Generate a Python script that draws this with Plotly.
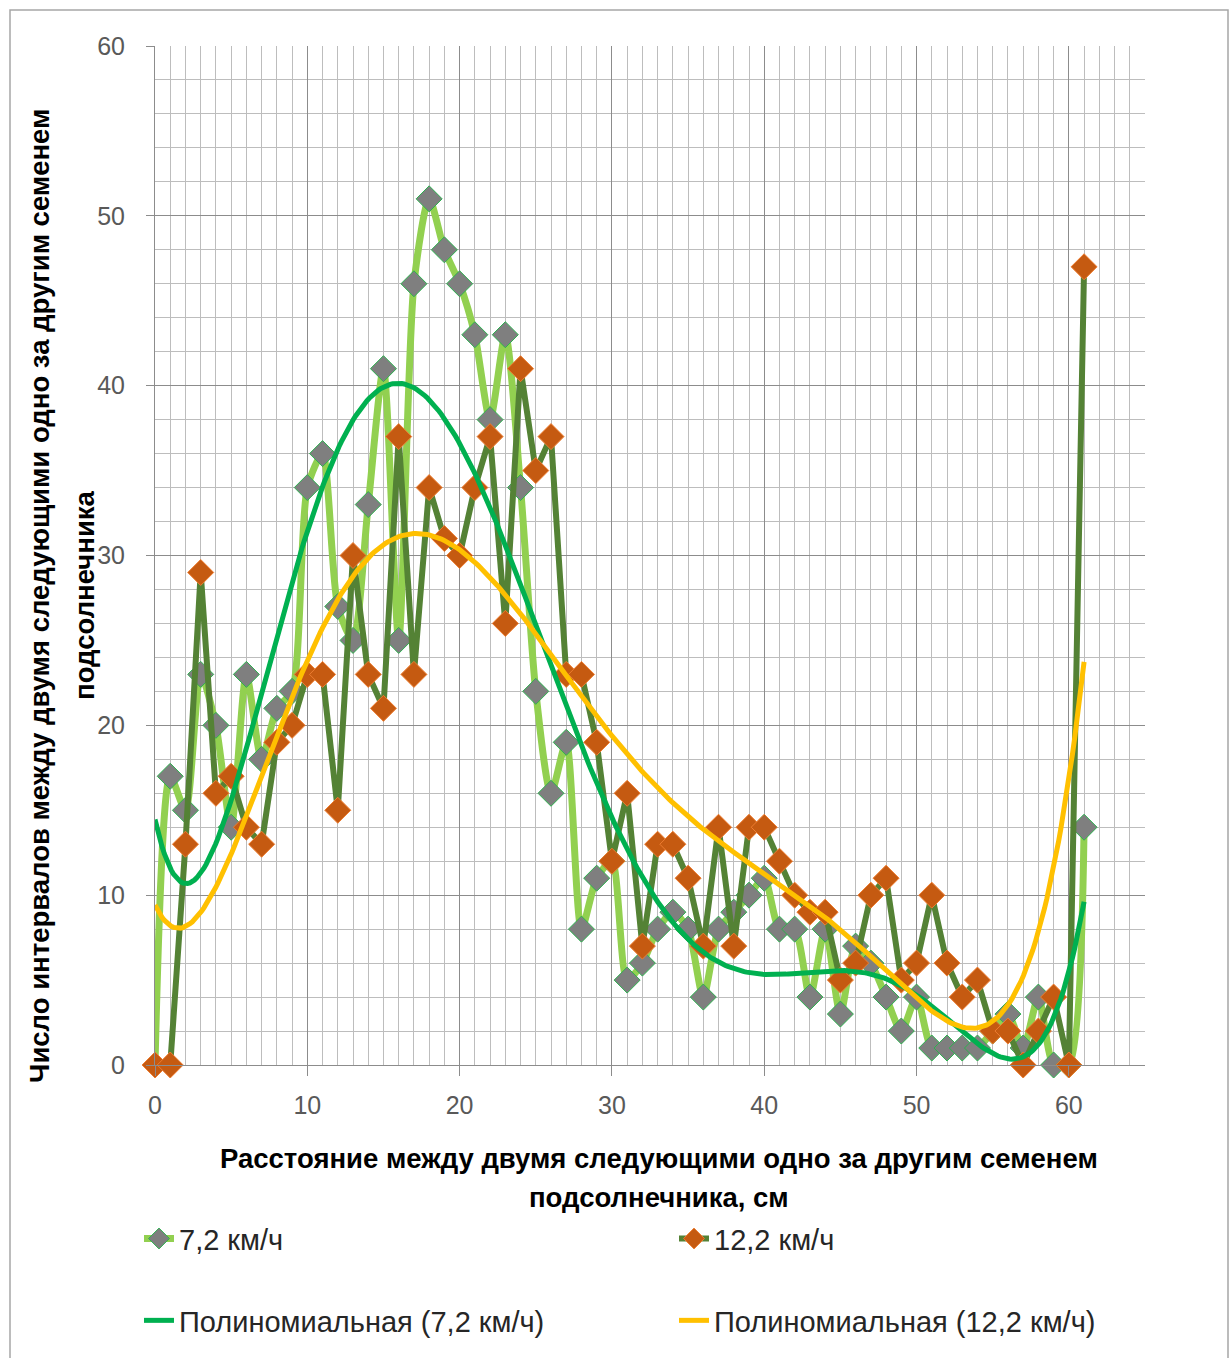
import numpy as np
import plotly.graph_objects as go

# ---- data ----
x_cm = list(range(0, 62))
v_72 = [0, 17, 15, 23, 20, 14, 23, 18, 21, 22,
        34, 36, 27, 25, 33, 41, 25, 46, 51, 48,
        46, 43, 38, 43, 34, 22, 16, 19, 8, 11,
        12, 5, 6, 8, 9, 8, 4, 8, 9, 10,
        11, 8, 8, 4, 8, 3, 7, 6, 4, 2,
        4, 1, 1, 1, 1, 2, 3, 1, 4, 0,
        0, 14]
v_122 = [0, 0, 13, 29, 16, 17, 14, 13, 19, 20,
         23, 23, 15, 30, 23, 21, 37, 23, 34, 31,
         30, 34, 37, 26, 41, 35, 37, 23, 23, 19,
         12, 16, 7, 13, 13, 11, 7, 14, 7, 14,
         14, 12, 10, 9, 9, 5, 6, 10, 11, 5,
         6, 10, 6, 4, 5, 2, 2, 0, 2, 4,
         0, 47]
name_72 = "7,2 км/ч"
name_122 = "12,2 км/ч"
name_p72 = "Полиномиальная (7,2 км/ч)"
name_p122 = "Полиномиальная (12,2 км/ч)"
x_title = ["Расстояние между двумя следующими одно за другим семенем", "подсолнечника, см"]
y_title = ["Число интервалов между двумя следующими одно за другим семенем", "подсолнечника"]
poly_order = 6

# ---- polynomial trend lines (least squares, like Excel) ----
xa = np.array(x_cm, dtype=float)
xf = np.linspace(xa.min(), xa.max(), 400)
p72 = np.polyval(np.polyfit(xa, np.array(v_72, float), poly_order), xf)
p122 = np.polyval(np.polyfit(xa, np.array(v_122, float), poly_order), xf)

fig = go.Figure()
fig.add_trace(go.Scatter(
    x=x_cm, y=v_72, name=name_72, mode="lines+markers",
    line=dict(color="#92D050", width=7, shape="spline", smoothing=0.7),
    marker=dict(symbol="diamond", size=20, color="#7F7F7F",
                line=dict(color="#2DB24F", width=1)),
    cliponaxis=False, legend="legend"))
fig.add_trace(go.Scatter(
    x=x_cm, y=v_122, name=name_122, mode="lines+markers",
    line=dict(color="#548235", width=6),
    marker=dict(symbol="diamond", size=20, color="#C55A11",
                line=dict(color="#ED7D31", width=1)),
    cliponaxis=False, legend="legend"))
fig.add_trace(go.Scatter(
    x=xf, y=p72, name=name_p72, mode="lines",
    line=dict(color="#00B050", width=5), cliponaxis=False, legend="legend2"))
fig.add_trace(go.Scatter(
    x=xf, y=p122, name=name_p122, mode="lines",
    line=dict(color="#FFC000", width=5), cliponaxis=False, legend="legend2"))

L, R, T, B = 155, 87, 46, 291
W, H = 1232, 1358
pw, ph = W - L - R, H - T - B


def px(xp):
    return (xp - L) / pw


def py(yp):
    return (H - B - yp) / ph


tick_font = dict(family="Liberation Sans, Arial, sans-serif", size=25, color="#595959")
title_font = dict(family="Liberation Sans, Arial, sans-serif", size=27.5, color="#000000")
legend_font = dict(family="Liberation Sans, Arial, sans-serif", size=29, color="#262626")

fig.update_layout(
    width=W, height=H,
    margin=dict(l=L, r=R, t=T, b=B),
    paper_bgcolor="white", plot_bgcolor="white",
    xaxis=dict(range=[0, 65], tick0=0, dtick=10, showgrid=True, gridcolor="#8C8C8C", gridwidth=1,
               minor=dict(dtick=1, showgrid=True, gridcolor="#BDBDBD", gridwidth=1),
               ticks="outside", ticklen=10, tickcolor="#8C8C8C",
               showline=True, linecolor="#8C8C8C", zeroline=False,
               tickfont=tick_font, ticklabelstandoff=8),
    yaxis=dict(range=[0, 60], tick0=0, dtick=10, showgrid=True, gridcolor="#8C8C8C", gridwidth=1,
               minor=dict(dtick=2, showgrid=True, gridcolor="#BDBDBD", gridwidth=1),
               ticks="outside", ticklen=8, tickcolor="#8C8C8C",
               showline=True, linecolor="#8C8C8C", zeroline=False,
               tickfont=tick_font, ticklabelstandoff=16),
    legend=dict(orientation="h", x=px(139), xanchor="left", y=py(1241), yanchor="middle",
                font=legend_font, entrywidth=490, entrywidthmode="pixels",
                bgcolor="rgba(0,0,0,0)"),
    legend2=dict(orientation="h", x=px(139), xanchor="left", y=py(1323), yanchor="middle",
                 font=legend_font, entrywidth=490, entrywidthmode="pixels",
                 bgcolor="rgba(0,0,0,0)"),
    showlegend=True,
)

fig.add_annotation(text="<b>%s</b>" % x_title[0], xref="paper", yref="paper",
                   x=px(659), y=py(1161), xanchor="center", yanchor="middle",
                   showarrow=False, font=title_font)
fig.add_annotation(text="<b>%s</b>" % x_title[1], xref="paper", yref="paper",
                   x=px(659), y=py(1200), xanchor="center", yanchor="middle",
                   showarrow=False, font=title_font)
fig.add_annotation(text="<b>%s</b>" % y_title[0], xref="paper", yref="paper",
                   x=px(40), y=py(597), xanchor="center", yanchor="middle", textangle=-90,
                   showarrow=False, font=title_font)
fig.add_annotation(text="<b>%s</b>" % y_title[1], xref="paper", yref="paper",
                   x=px(85), y=py(597), xanchor="center", yanchor="middle", textangle=-90,
                   showarrow=False, font=title_font)

fig.add_shape(type="rect", xref="paper", yref="paper",
              x0=px(10), x1=px(1228), y0=py(1380), y1=py(10),
              line=dict(color="#A6A6A6", width=1.5), layer="below")

fig.write_html("out.html")
